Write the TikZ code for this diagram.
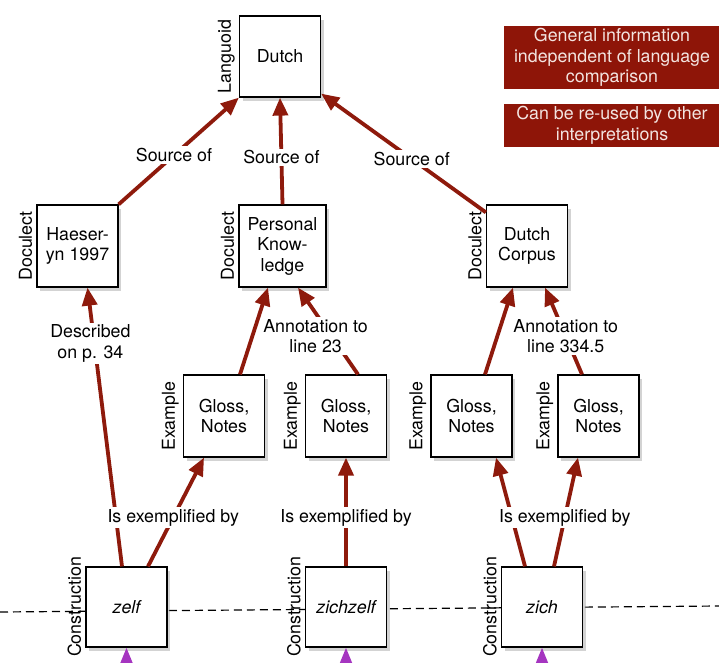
\documentclass[tikz,border=0pt]{standalone}
\usepackage{fontspec}
\setmainfont{TeX Gyre Heros}
\usetikzlibrary{arrows.meta,shadows}

\begin{document}
\begin{tikzpicture}[x=1pt, y=-1pt, font=\fontsize{17.8}{20.5}\selectfont]
    % Define colours
    \definecolor{linkColour}{HTML}{8E1A0C}
    \definecolor{noteColour}{HTML}{8E1508}
    \definecolor{noteText}{HTML}{F3E4E0}
    \definecolor{constrColour}{HTML}{A535C0}

    % Define styles
    \tikzset{
        box/.style={draw=black, line width=1.2pt, fill=white, minimum width=81pt, minimum height=82pt,
            inner sep=2pt, align=center, drop shadow={shadow xshift=3pt, shadow yshift=-4pt, opacity=0.35}},
        kindlabel/.style={label={[rotate=90, anchor=south, inner sep=4pt]west:#1}},
        link/.style={linkColour, line width=3.8pt, -{Triangle[length=18pt,width=15pt]}},
        constr/.style={constrColour, line width=3pt, -{Triangle[length=16pt,width=12pt]}},
        tag/.style={fill=white, text=black, inner sep=2pt, align=center},
        note/.style={fill=noteColour, text=noteText, minimum width=216pt, align=center, inner sep=0pt}
    }

    % Picture frame
    \clip (0,0) rectangle (719,662);

    % Dashed separation line
    \coordinate (lineL) at (0,612);
    \coordinate (lineR) at (719,606);
    \draw[line width=1.2pt, dash pattern=on 8pt off 5pt] (lineL) -- (lineR);

    % Notes
    \node[note, minimum height=63pt] (infoA) at (612,57.5) {General information\\independent of language\\comparison};
    \node[note, minimum height=43pt] (infoB) at (612,125.5) {Can be re-used by other\\interpretations};

    % Languoid
    \node[box, minimum height=81pt, kindlabel=Languoid] (dutch) at (280,56.5) {Dutch};

    % Doculects
    \node[box, kindlabel=Doculect] (haeseryn) at (77.5,246) {Haeser-\\yn 1997};
    \node[box, minimum width=87pt, kindlabel=Doculect] (personal) at (282.5,246) {Personal\\Know-\\ledge};
    \node[box, kindlabel=Doculect] (corpus) at (527,246) {Dutch\\Corpus};

    % Examples
    \node[box, kindlabel=Example] (glossA) at (224,416) {Gloss,\\Notes};
    \node[box, kindlabel=Example] (glossB) at (346,416) {Gloss,\\Notes};
    \node[box, kindlabel=Example] (glossC) at (471.5,416) {Gloss,\\Notes};
    \node[box, kindlabel=Example] (glossD) at (598.5,416) {Gloss,\\Notes};

    % Constructions
    \node[box, minimum height=80pt, kindlabel=Construction] (zelf) at (126.5,607) {\itshape zelf};
    \node[box, minimum height=80pt, kindlabel=Construction] (zichzelf) at (346,607) {\itshape zichzelf};
    \node[box, minimum height=80pt, kindlabel=Construction] (zich) at (542,607) {\itshape zich};

    % Source links
    \draw[link] (haeseryn.north east) -- node[tag, pos=0.46] {Source of} (dutch.south west);
    \draw[link] (personal.north) -- node[tag, pos=0.44] {Source of} (dutch.south);
    \draw[link] ([yshift=-8pt]corpus.north west) -- node[tag, pos=0.45] {Source of} ([yshift=4pt]dutch.south east);

    % Annotation links
    \draw[link] ([xshift=-4.5pt]zelf.north) -- node[tag, pos=0.8, xshift=-4pt] {Described\\on p. 34} ([xshift=10pt]haeseryn.south);
    \draw[link] ([xshift=16pt]glossA.north) -- ([xshift=-14.5pt]personal.south);
    \draw[link] ([xshift=12pt]glossB.north) -- node[tag, pos=0.44, xshift=-16pt] {Annotation to\\line 23} ([xshift=15.5pt]personal.south);
    \draw[link] ([xshift=13.5pt]glossC.north) -- ([xshift=-14pt]corpus.south);
    \draw[link] ([xshift=-16.5pt]glossD.north) -- node[tag, pos=0.44] {Annotation to\\line 334.5} ([xshift=18pt]corpus.south);

    % Exemplification links
    \draw[link] ([xshift=21.5pt]zelf.north) -- node[tag, pos=0.45] {Is exemplified by} ([xshift=-20pt]glossA.south);
    \draw[link] (zichzelf.north) -- node[tag, pos=0.45] {Is exemplified by} (glossB.south);
    \draw[link] ([xshift=-17pt]zich.north) -- ([xshift=24.5pt]glossC.south);
    \draw[link] ([xshift=12pt]zich.north) -- node[tag, pos=0.45] {Is exemplified by} ([xshift=-20.5pt]glossD.south);

    % Links from below
    \coordinate (belowA) at (126.5,700);
    \coordinate (belowB) at (346,700);
    \coordinate (belowC) at (542,700);
    \draw[constr] (belowA) -- (zelf.south);
    \draw[constr] (belowB) -- (zichzelf.south);
    \draw[constr] (belowC) -- (zich.south);

\end{tikzpicture}
\end{document}
